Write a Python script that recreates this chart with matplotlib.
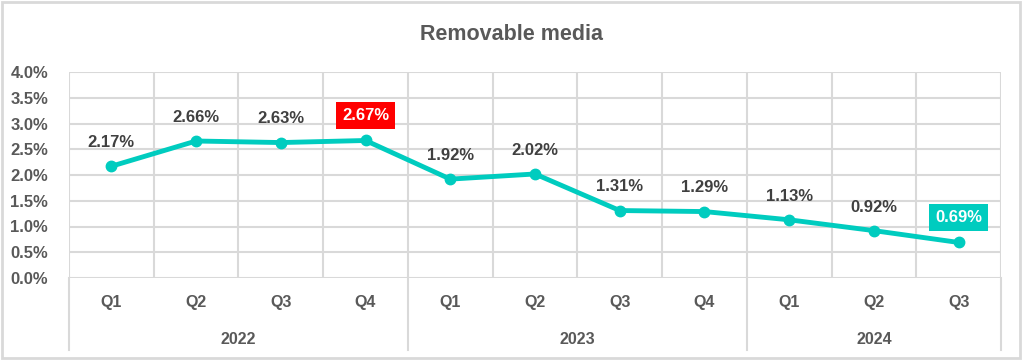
import matplotlib.pyplot as plt
import matplotlib.transforms as mtransforms
from matplotlib.patches import Rectangle

# data
quarters = ["Q1", "Q2", "Q3", "Q4", "Q1", "Q2", "Q3", "Q4", "Q1", "Q2", "Q3"]
years = ["2022", "2023", "2024"]
year_sizes = [4, 4, 3]
values = [2.17, 2.66, 2.63, 2.67, 1.92, 2.02, 1.31, 1.29, 1.13, 0.92, 0.69]
highlight = {3: "#FF0000", 10: "#00CCBF"}

line_color = "#00CCBF"
text_color = "#595959"
label_color = "#404040"
grid_color = "#D9D9D9"

plt.rcParams['font.family'] = ['Liberation Sans', 'DejaVu Sans']

fig = plt.figure(figsize=(10.24, 3.62), dpi=100)
ax = fig.add_axes([69 / 1024, 1 - 278 / 362, (1001 - 69) / 1024, (278 - 72) / 362])

x = list(range(len(values)))
ax.plot(x, values, color=line_color, linewidth=3.5, marker="o", markersize=7.5, zorder=3)

ax.set_xlim(-0.5, len(values) - 0.5)
ax.set_ylim(0, 4.0)
ax.set_yticks([i * 0.5 for i in range(9)])
ax.set_yticklabels([f"{i * 0.5:.1f}%" for i in range(9)])
ax.tick_params(axis="y", length=0, pad=15, labelsize=12, labelcolor=text_color)
for t in ax.get_yticklabels():
    t.set_fontweight("bold")
ax.set_xticks([])

# grid
for yv in ax.get_yticks():
    ax.axhline(yv, color=grid_color, linewidth=1.5, zorder=1)
for k in range(len(values) + 1):
    ax.axvline(k - 0.5, color=grid_color, linewidth=1.5, zorder=1)
for s in ax.spines.values():
    s.set_visible(False)

# data labels
for i, v in enumerate(values):
    if i in highlight:
        ax.annotate(f"{v:.2f}%", (i, v), xytext=(0, 18), textcoords="offset points",
                    ha="center", va="center", fontsize=12, fontweight="bold", color="white",
                    bbox=dict(boxstyle="square,pad=0.35", fc=highlight[i], ec="none"), zorder=4)
    else:
        ax.annotate(f"{v:.2f}%", (i, v), xytext=(0, 17), textcoords="offset points",
                    ha="center", va="center", fontsize=12, fontweight="bold", color=label_color, zorder=4)

# category axis (quarters and years)
trans = mtransforms.blended_transform_factory(ax.transData, fig.transFigure)
for i, q in enumerate(quarters):
    ax.text(i, 1 - 303 / 362, q, transform=trans, ha="center", va="center",
            fontsize=11.5, fontweight="bold", color=text_color)
start = 0
bounds = [-0.5]
for y, n in zip(years, year_sizes):
    ax.text(start + (n - 1) / 2, 1 - 339 / 362, y, transform=trans, ha="center", va="center",
            fontsize=11.5, fontweight="bold", color=text_color)
    start += n
    bounds.append(start - 0.5)
for b in bounds:
    ax.plot([b, b], [1 - 278 / 362, 1 - 350 / 362], transform=trans, color=grid_color,
            linewidth=1.5, clip_on=False)

fig.text(0.5, 1 - 35 / 362, "Removable media", ha="center", va="center",
         fontsize=15.5, fontweight="bold", color=text_color)

# outer border
fig.patches.append(Rectangle((2 / 1024, 4 / 362), 1018 / 1024, 356 / 362, transform=fig.transFigure,
                             fill=False, ec="#D9D9D9", lw=2))

fig.savefig("out.png", dpi=100)
